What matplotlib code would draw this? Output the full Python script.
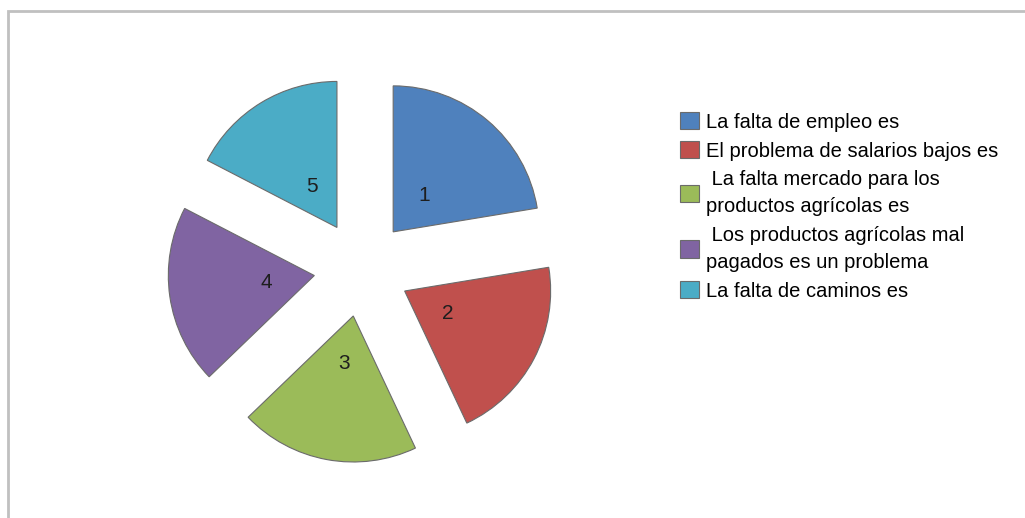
import matplotlib.pyplot as plt
from matplotlib.patches import Rectangle

# slice shares (percent)
values = [22.4, 20.6, 19.8, 19.8, 17.4]
numbers = ["1", "2", "3", "4", "5"]
legend_labels = [
    "La falta de empleo es",
    "El problema de salarios bajos es",
    " La falta mercado para los\nproductos agrícolas es",
    " Los productos agrícolas mal\npagados es un problema",
    "La falta de caminos es",
]
colors = ["#4F81BD", "#C0504D", "#9BBB59", "#8064A2", "#4BACC6"]

plt.rcParams["font.family"] = ["Liberation Sans", "DejaVu Sans"]

W, H = 1025, 518
fig = plt.figure(figsize=(W / 100, H / 100), dpi=100)

# pie centre and radius in pixels
cx, cy, r = 362, 268.6, 146
ax = fig.add_axes([0, 0, 1, 1])
wedges, texts = ax.pie(
    values,
    labels=numbers,
    colors=colors,
    startangle=90,
    counterclock=False,
    explode=[0.33] * len(values),
    labeldistance=0.33,
    wedgeprops=dict(edgecolor="#6b6b6b", linewidth=0.8),
    textprops=dict(fontsize=15, color="#1e1e1e"),
)
for t in texts:
    t.set_ha("center")
    t.set_va("center")

ax.set_xlim(-cx / r, (W - cx) / r)
ax.set_ylim(-(H - cy) / r, cy / r)
ax.set_aspect("auto")

leg = fig.legend(
    wedges,
    legend_labels,
    loc="upper left",
    bbox_to_anchor=(680 / W, 1 - 112 / H),
    frameon=False,
    fontsize=14.5,
    handlelength=0.95,
    handleheight=0.95,
    handletextpad=0.35,
    labelspacing=0.47,
    borderpad=0,
    borderaxespad=0,
)
for t in leg.get_texts():
    t.set_linespacing(1.53)

# outer chart border (only top and left are visible in the crop)
fig.patches.append(Rectangle((7.5 / W, -0.1), 1.2, 1.1 - 11.5 / H,
                             transform=fig.transFigure, fill=False,
                             edgecolor="#c0c0c0", linewidth=2))

fig.savefig("out.png", dpi=100)
